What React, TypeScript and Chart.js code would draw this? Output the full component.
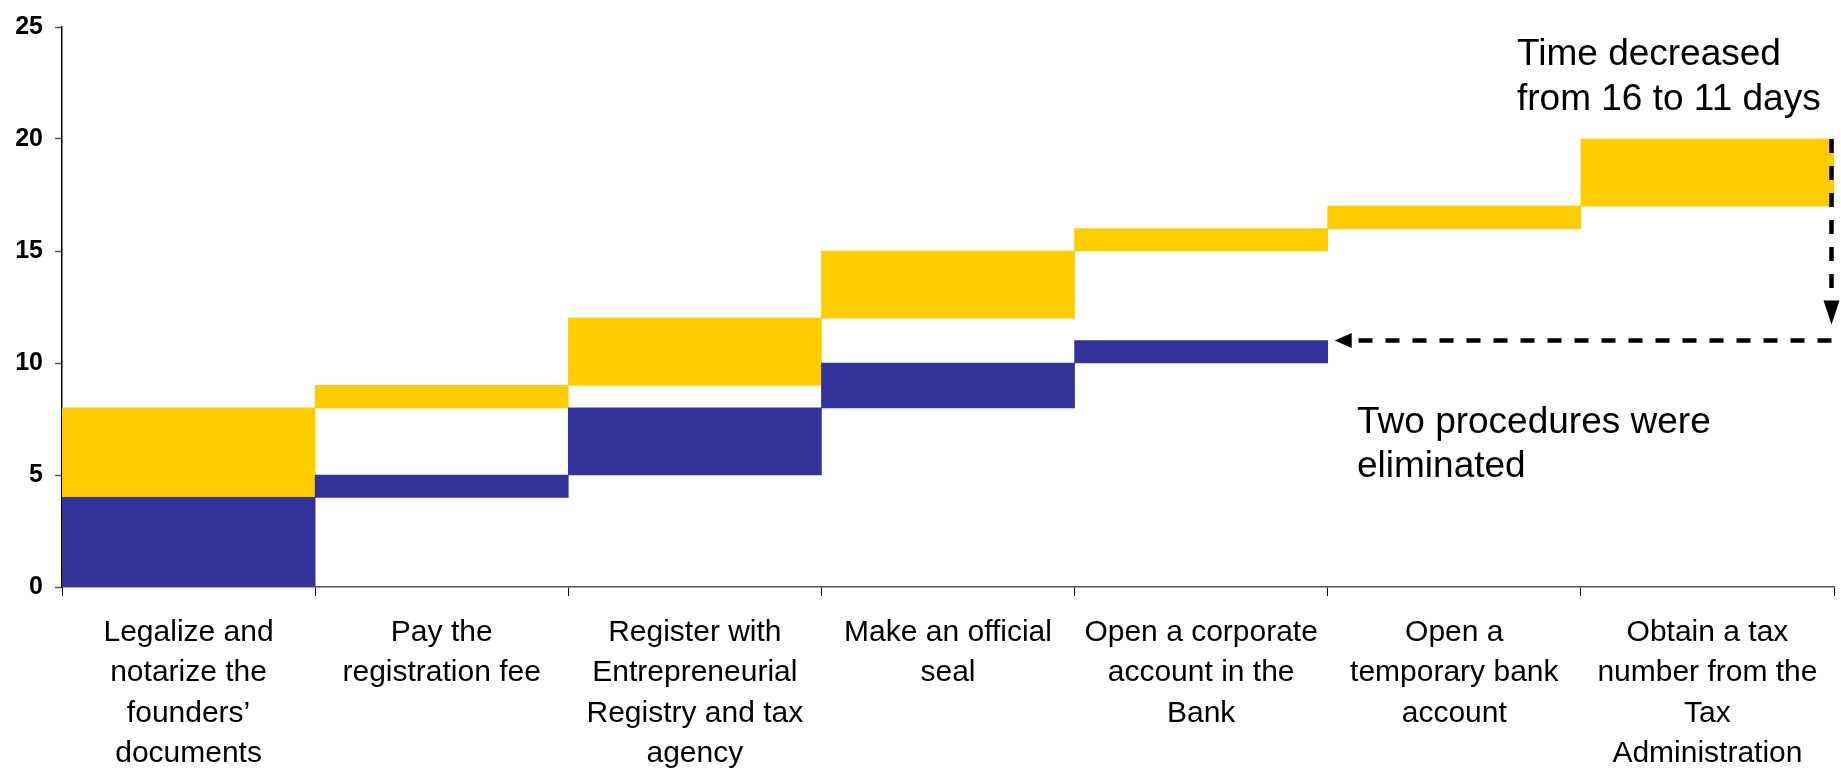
import React, { useEffect, useRef } from "react";
import { Chart, registerables } from "chart.js";

Chart.register(...registerables);

const categories: string[][] = [
  ["Legalize and", "notarize the", "founders’", "documents"],
  ["Pay the", "registration fee"],
  ["Register with", "Entrepreneurial", "Registry and tax", "agency"],
  ["Make an official", "seal"],
  ["Open a corporate", "account in the", "Bank"],
  ["Open a", "temporary bank", "account"],
  ["Obtain a tax", "number from the", "Tax", "Administration"],
];

// Blue: procedures that remain (start, end) in days
const remainingSeries: ([number, number] | null)[] = [
  [0, 4],
  [4, 5],
  [5, 8],
  [8, 10],
  [10, 11],
  null,
  null,
];

// Yellow: before reform (start, end) in days
const previousSeries: [number, number][] = [
  [4, 8],
  [8, 9],
  [9, 12],
  [12, 15],
  [15, 16],
  [16, 17],
  [17, 20],
];

const yTicks = [0, 5, 10, 15, 20, 25];

const annotationTop = ["Time decreased", "from 16 to 11 days"];
const annotationBottom = ["Two procedures were", "eliminated"];
const oldTotal = 20;
const newTotal = 11;
const lastKeptIndex = 4;

const FONT = "'Liberation Sans', Arial, sans-serif";

const annotationPlugin = {
  id: "annotations",
  afterDraw(chart: any) {
    const { ctx, chartArea, scales } = chart;
    const x = scales.x;
    const y = scales.y;
    ctx.save();
    // texts
    ctx.fillStyle = "#000";
    ctx.font = `37px ${FONT}`;
    ctx.textAlign = "left";
    ctx.textBaseline = "alphabetic";
    annotationTop.forEach((t, i) => ctx.fillText(t, 1517, 65 + i * 45));
    annotationBottom.forEach((t, i) => ctx.fillText(t, 1357, 433 + i * 44));

    // arrows
    const vx = chartArea.right - 2.5;
    const yOld = y.getPixelForValue(oldTotal);
    const yNew = y.getPixelForValue(newTotal);
    const vTip = yNew - 16;
    ctx.strokeStyle = "#000";
    ctx.lineWidth = 4.5;
    ctx.setLineDash([14, 13]);
    ctx.beginPath();
    ctx.moveTo(vx, yOld);
    ctx.lineTo(vx, vTip - 22);
    ctx.stroke();

    const halfW = (x.getPixelForValue(1) - x.getPixelForValue(0)) / 2;
    const hTip = x.getPixelForValue(lastKeptIndex) + halfW + 7;
    ctx.beginPath();
    ctx.moveTo(vx, yNew);
    ctx.lineTo(hTip + 22, yNew);
    ctx.stroke();
    ctx.setLineDash([]);

    ctx.fillStyle = "#000";
    ctx.beginPath();
    ctx.moveTo(vx, vTip);
    ctx.lineTo(vx - 8, vTip - 24);
    ctx.lineTo(vx + 8, vTip - 24);
    ctx.closePath();
    ctx.fill();

    ctx.beginPath();
    ctx.moveTo(hTip, yNew);
    ctx.lineTo(hTip + 17, yNew - 7.5);
    ctx.lineTo(hTip + 17, yNew + 7.5);
    ctx.closePath();
    ctx.fill();
    ctx.restore();
  },
};

export default function App() {
  const ref = useRef<HTMLCanvasElement | null>(null);
  useEffect(() => {
    if (!ref.current) return;
    const chart = new Chart(ref.current, {
      type: "bar",
      data: {
        labels: categories,
        datasets: [
          {
            label: "Remaining",
            data: remainingSeries as any,
            backgroundColor: "#333399",
            grouped: false,
            barPercentage: 1,
            categoryPercentage: 1,
            borderWidth: 0,
          },
          {
            label: "Previous",
            data: previousSeries as any,
            backgroundColor: "#FFCC00",
            grouped: false,
            barPercentage: 1,
            categoryPercentage: 1,
            borderWidth: 0,
          },
        ],
      },
      options: {
        animation: false,
        responsive: true,
        maintainAspectRatio: false,
        color: "#000",
        layout: { padding: { left: 0, right: 7, top: 21, bottom: 0 } },
        plugins: { legend: { display: false }, tooltip: { enabled: false } },
        scales: {
          x: {
            offset: true,
            grid: {
              display: true,
              drawOnChartArea: false,
              offset: true,
              tickLength: 9,
              color: "#000",
              tickColor: "#000",
            },
            border: { display: true, color: "#555", width: 1.5 },
            ticks: {
              autoSkip: false,
              maxRotation: 0,
              minRotation: 0,
              padding: 16,
              color: "#000",
              font: { family: FONT, size: 30, lineHeight: 1.35 },
            },
            afterFit: (scale: any) => {
              scale.height = 183;
            },
          },
          y: {
            min: 0,
            max: 25,
            afterBuildTicks: (scale: any) => {
              scale.ticks = yTicks.map((v) => ({ value: v }));
            },
            grid: {
              display: true,
              drawOnChartArea: false,
              tickLength: 7,
              tickColor: "#555",
              tickWidth: 1.5,
            },
            border: { display: true, color: "#000", width: 1.5 },
            ticks: {
              padding: 12,
              color: "#000",
              font: { family: FONT, size: 25, weight: "bold" },
            },
            afterFit: (scale: any) => {
              scale.width = 62;
            },
          },
        },
      },
      plugins: [annotationPlugin],
    });
    return () => chart.destroy();
  }, []);

  return (
    <div style={{ position: "absolute", left: 0, top: 0, width: 1841, height: 770, background: "#fff" }}>
      <canvas ref={ref} />
    </div>
  );
}
